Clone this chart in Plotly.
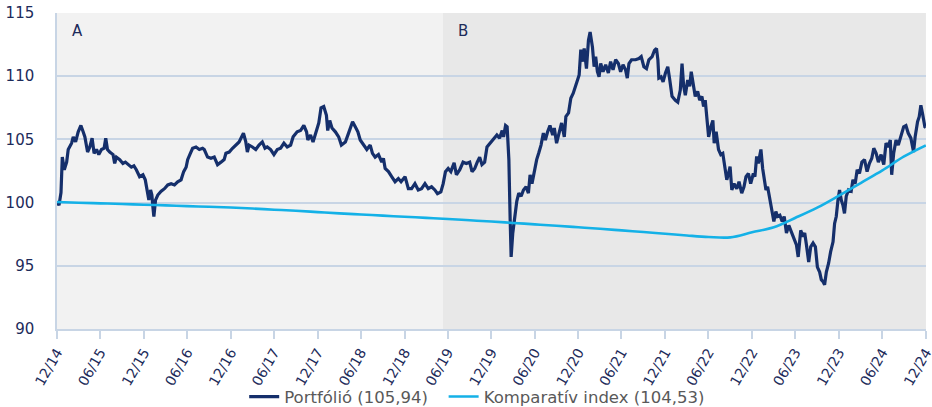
import numpy as np
import pandas as pd
import plotly.graph_objects as go

# ---- data (time in years after 2014-12-31) ----
portfolio_t = [
0.000,0.023,0.046,0.061,0.084,0.111,0.129,0.168,0.187,0.214,0.244,0.275,0.301,0.321,0.352,0.378,0.404,0.427,0.455,0.481,
0.512,0.542,0.561,0.581,0.607,0.645,0.664,0.684,0.722,0.759,0.787,0.817,0.856,0.885,0.913,0.951,0.989,1.016,1.039,1.057,
1.077,1.092,1.103,1.115,1.134,1.160,1.199,1.237,1.275,1.314,1.352,1.389,1.428,1.458,1.486,1.504,1.535,1.561,1.600,1.638,
1.676,1.695,1.733,1.772,1.810,1.848,1.887,1.924,1.944,1.982,2.020,2.058,2.096,2.146,2.173,2.191,2.211,2.249,2.288,2.325,
2.363,2.394,2.420,2.459,2.497,2.535,2.574,2.612,2.650,2.689,2.718,2.764,2.803,2.841,2.872,2.887,2.918,2.947,2.986,3.013,
3.039,3.070,3.101,3.116,3.139,3.165,3.204,3.242,3.273,3.319,3.356,3.402,3.433,3.463,3.490,3.528,3.566,3.605,3.631,3.662,
3.700,3.738,3.757,3.777,3.815,3.852,3.891,3.929,3.960,4.006,4.044,4.081,4.120,4.158,4.196,4.235,4.273,4.311,4.349,4.379,
4.418,4.445,4.471,4.502,4.533,4.571,4.597,4.636,4.674,4.711,4.750,4.777,4.808,4.837,4.865,4.891,4.922,4.949,4.998,5.037,
5.063,5.094,5.124,5.140,5.163,5.181,5.201,5.216,5.227,5.246,5.266,5.292,5.315,5.342,5.369,5.399,5.426,5.445,5.467,5.495,
5.521,5.544,5.571,5.598,5.621,5.647,5.674,5.705,5.724,5.750,5.781,5.808,5.839,5.857,5.888,5.914,5.942,5.965,5.991,6.010,
6.029,6.048,6.068,6.094,6.117,6.136,6.163,6.182,6.200,6.220,6.239,6.258,6.285,6.315,6.346,6.372,6.400,6.430,6.461,6.487,
6.515,6.544,6.564,6.583,6.613,6.659,6.698,6.724,6.755,6.785,6.812,6.850,6.877,6.900,6.916,6.927,6.953,6.976,7.003,7.030,
7.053,7.079,7.117,7.145,7.174,7.194,7.213,7.232,7.259,7.282,7.300,7.320,7.346,7.374,7.397,7.423,7.442,7.461,7.480,7.500,
7.526,7.549,7.564,7.587,7.614,7.640,7.663,7.690,7.709,7.729,7.747,7.767,7.793,7.824,7.850,7.881,7.907,7.930,7.958,7.984,
8.015,8.033,8.053,8.072,8.102,8.122,8.141,8.160,8.179,8.199,8.213,8.233,8.251,8.274,8.293,8.320,8.347,8.370,8.396,8.423,
8.454,8.485,8.511,8.531,8.560,8.588,8.606,8.626,8.652,8.675,8.702,8.729,8.752,8.778,8.797,8.817,8.835,8.855,8.881,8.904,
8.932,8.950,8.969,8.989,9.007,9.027,9.046,9.064,9.084,9.110,9.141,9.161,9.187,9.210,9.236,9.264,9.294,9.324,9.351,9.378,
9.401,9.428,9.454,9.485,9.516,9.542,9.568,9.591,9.607,9.630,9.657,9.683,9.714,9.745,9.771,9.797,9.828,9.859,9.877,9.905,
9.924,9.943,9.962,9.989,10.000]

portfolio_v = [
100.05,99.8,100.8,103.6,102.6,103.2,104.2,104.7,105.2,104.8,105.6,106.1,105.6,105.2,104.0,104.4,105.1,103.9,104.2,103.8,
104.2,104.3,105.1,104.2,104.0,103.8,103.1,103.6,103.4,103.1,103.2,103.0,102.8,102.9,102.6,102.05,102.2,101.8,101.0,100.2,
101.0,100.6,99.7,98.9,100.2,100.6,100.9,101.1,101.4,101.5,101.4,101.65,101.8,102.45,102.8,103.4,103.9,104.3,104.4,104.2,
104.3,104.2,103.6,103.5,103.6,103.0,103.2,103.4,103.9,104.0,104.3,104.55,104.8,105.5,104.8,104.0,104.55,104.4,104.2,104.55,
104.8,104.3,104.4,104.2,103.8,104.2,104.3,104.7,104.4,104.55,105.2,105.6,105.7,106.1,105.6,104.95,105.35,104.8,105.6,106.3,
107.5,107.6,106.9,105.7,106.5,105.9,105.6,105.2,104.55,104.8,105.5,106.4,106.0,105.6,104.95,104.55,104.2,104.55,103.9,103.6,
103.8,103.2,103.5,102.7,102.45,102.05,101.65,101.9,101.65,102.05,101.1,101.1,101.5,101.0,101.1,101.5,101.1,101.25,101.0,100.7,
100.85,101.5,102.45,102.7,102.45,103.15,102.2,102.6,103.2,103.1,103.2,102.45,102.7,103.2,103.6,103.0,103.2,104.4,104.8,105.1,
105.35,105.1,105.7,105.2,106.1,106.0,103.4,98.6,95.7,97.6,98.9,100.1,100.75,100.5,101.0,101.25,100.75,102.2,101.5,102.6,
103.4,103.9,104.55,105.5,104.95,105.6,106.1,105.35,105.9,104.7,105.7,106.3,105.2,106.8,107.1,108.25,108.65,109.2,109.7,110.1,
112.1,111.15,112.2,110.6,112.85,113.5,112.3,110.75,111.55,110.35,109.95,111.0,110.35,110.9,110.25,111.15,110.5,111.3,111.0,110.35,
110.9,110.5,109.85,111.0,111.3,111.3,111.4,111.55,110.75,110.6,111.3,111.55,112.05,112.2,111.3,109.85,109.95,109.55,110.25,110.75,
109.7,108.4,108.1,107.95,108.9,111.0,109.2,108.5,109.7,109.2,110.35,109.45,108.4,108.8,108.1,108.4,107.6,108.1,106.3,105.2,
106.0,106.5,104.7,105.6,104.2,103.8,103.9,102.85,101.8,102.3,102.85,101.0,101.5,101.1,101.65,100.75,101.25,102.05,102.3,101.5,
102.3,102.05,103.65,103.1,104.2,102.7,101.8,101.0,101.25,100.5,99.7,98.9,98.5,99.3,98.9,99.0,98.5,98.9,97.6,98.2,
97.7,97.2,96.65,95.7,97.8,97.3,97.6,96.65,95.3,96.5,96.8,96.5,94.9,94.5,93.9,93.75,93.5,94.5,95.2,96.1,
96.9,98.35,98.9,100.2,101.0,100.2,99.8,99.15,100.5,101.0,100.9,101.8,101.5,102.6,102.3,103.2,103.4,102.45,103.1,103.5,
104.3,103.9,103.2,103.8,103.0,104.7,104.4,104.95,102.2,103.9,104.95,104.55,105.35,106.0,106.1,105.5,105.1,104.0,105.2,106.4,
106.8,107.7,107.05,106.0,105.94]

index_t = [q * 0.25 for q in range(41)]
index_v = [100.05,99.99,99.94,99.89,99.83,99.78,99.72,99.67,99.61,99.53,
           99.44,99.35,99.25,99.15,99.06,98.97,98.88,98.79,98.70,98.60,
           98.50,98.39,98.28,98.17,98.05,97.93,97.80,97.67,97.54,97.40,
           97.28,97.25,97.65,98.05,98.80,99.60,100.55,101.55,102.55,103.65,104.53]

tick_dates = ["2014-12-31","2015-06-30","2015-12-31","2016-06-30","2016-12-31","2017-06-30",
              "2017-12-31","2018-06-30","2018-12-31","2019-06-30","2019-12-31","2020-06-30",
              "2020-12-31","2021-06-30","2021-12-31","2022-06-30","2022-12-31","2023-06-30",
              "2023-12-31","2024-06-30","2024-12-31"]
tick_labels = ["12/14","06/15","12/15","06/16","12/16","06/17","12/17","06/18","12/18","06/19",
               "12/19","06/20","12/20","06/21","12/21","06/22","12/22","06/23","12/23","06/24","12/24"]

period_names = ["A", "B"]
period_starts = ["2014-12-31", "2019-06-10"]
period_ends = ["2019-06-10", "2024-12-31"]
period_colors = ["#f2f2f2", "#e8e8e8"]

series_names = ["Portfólió (105,94)", "Komparatív index (104,53)"]

base = pd.Timestamp("2014-12-31")
def to_dates(ts):
    return base + pd.to_timedelta(np.array(ts) * 365.25, unit="D")

NAVY = "#152f6b"
CYAN = "#14b1e7"
GRID = "#c8d5e5"
TXT = "#1d2b5a"
FONT = "Verdana, DejaVu Sans, sans-serif"

fig = go.Figure()
for s, e, c in zip(period_starts, period_ends, period_colors):
    fig.add_vrect(x0=s, x1=e, fillcolor=c, line_width=0, layer="below", opacity=1)

fig.add_trace(go.Scatter(x=to_dates(portfolio_t), y=portfolio_v, mode="lines",
                         name=series_names[0], legend="legend",
                         line=dict(color=NAVY, width=3.2)))
fig.add_trace(go.Scatter(x=to_dates(index_t), y=index_v, mode="lines",
                         name=series_names[1], legend="legend2",
                         line=dict(color=CYAN, width=2.6, shape="spline")))

for name, s in zip(period_names, period_starts):
    fig.add_annotation(x=pd.Timestamp(s) + pd.Timedelta(days=55), y=113.6, text=name,
                       showarrow=False, xanchor="left", yanchor="middle",
                       font=dict(family=FONT, size=15, color=TXT))

legend_common = dict(orientation="h", xanchor="left", yref="container", y=0.025,
                     yanchor="middle", xref="container",
                     font=dict(family=FONT, size=16.5, color="#595959"),
                     itemwidth=30, bgcolor="rgba(0,0,0,0)")

fig.update_layout(
    width=932, height=407,
    margin=dict(l=57, r=6, t=13, b=78),
    paper_bgcolor="white", plot_bgcolor="white",
    font=dict(family=FONT, color=TXT),
    showlegend=True,
    legend=dict(x=0.262, **legend_common),
    legend2=dict(x=0.476, **legend_common),
    xaxis=dict(type="date", range=["2014-12-31", "2024-12-31 06:00"], automargin=False,
               tickvals=tick_dates, ticktext=tick_labels, tickangle=-60,
               ticklabeloverflow="allow",
               showgrid=False, ticks="outside", ticklen=8, tickcolor=GRID, tickwidth=1.5,
               showline=True, linecolor=GRID, linewidth=1.5, zeroline=False,
               tickfont=dict(family=FONT, size=14, color=TXT)),
    yaxis=dict(range=[90, 115], tickvals=[90, 95, 100, 105, 110, 115], automargin=False,
               showgrid=True, gridcolor=GRID, gridwidth=1.5, zeroline=False,
               showline=True, linecolor=GRID, linewidth=1.5, ticks="",
               ticklabelstandoff=18,
               tickfont=dict(family=FONT, size=15, color=TXT)),
)

fig.write_html("out.html", config={"displayModeBar": False},
               post_script="document.body.style.margin='0';document.body.style.overflow='hidden';")
